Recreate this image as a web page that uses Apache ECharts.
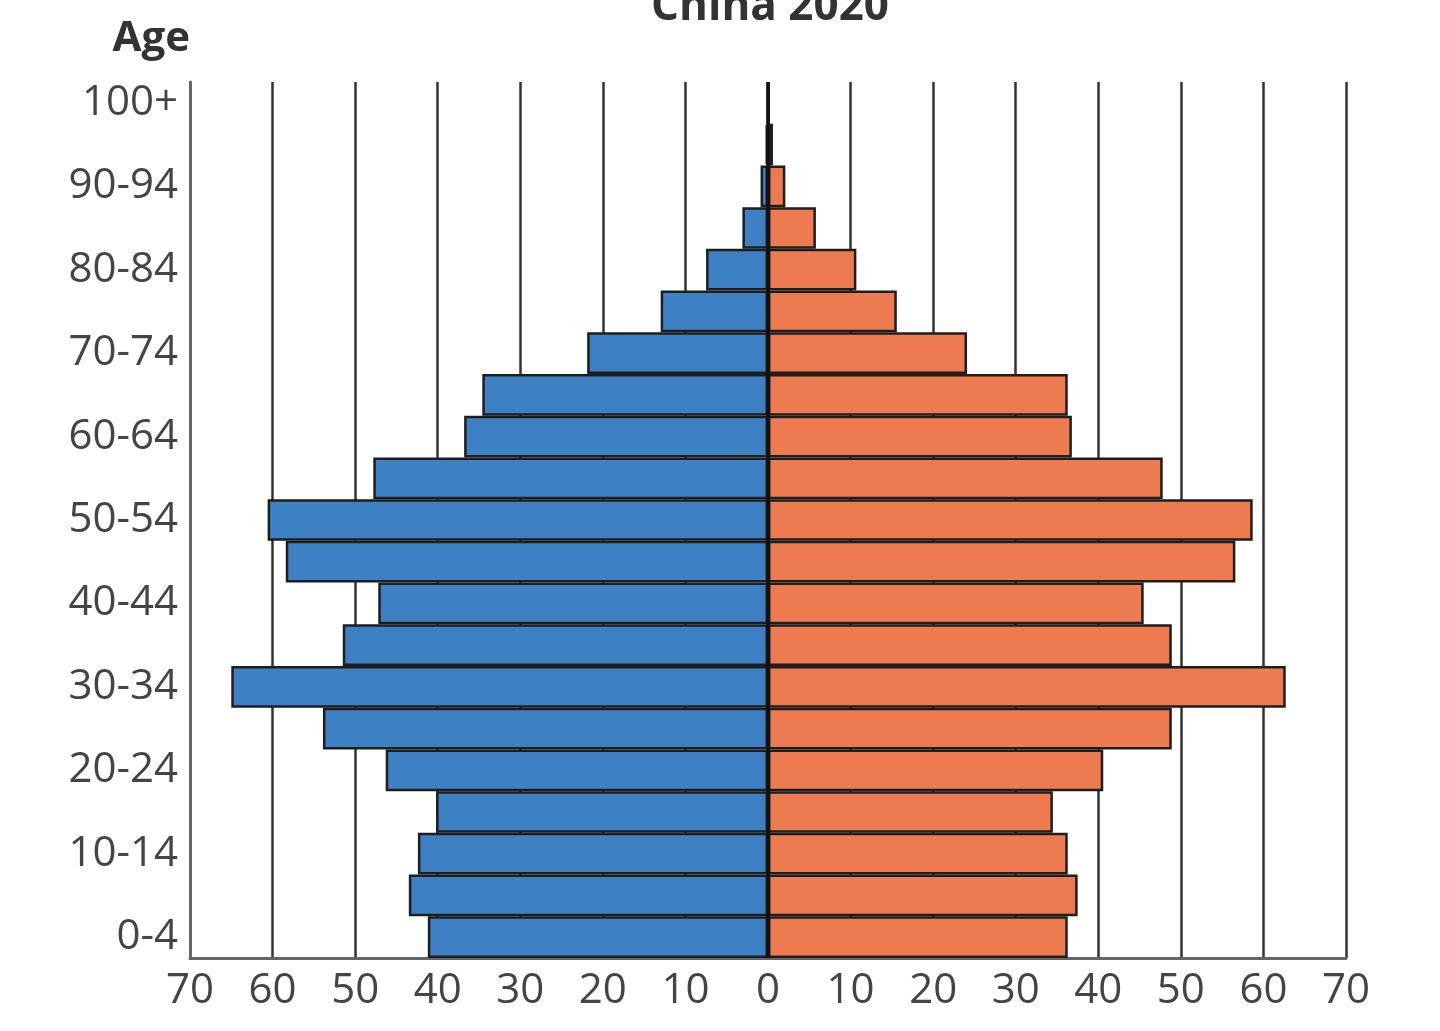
<!DOCTYPE html>
<html>
<head>
<meta charset="utf-8">
<script src="https://cdn.jsdelivr.net/npm/echarts@6/dist/echarts.min.js"></script>
<style>
html, body { margin: 0; padding: 0; background: #fff; }
#main { width: 1440px; height: 1031px; }
</style>
</head>
<body>
<div id="main"></div>
<script>
// 年龄组（从下到上）
var ages = ['0-4', '5-9', '10-14', '15-19', '20-24', '25-29', '30-34', '35-39', '40-44', '45-49',
    '50-54', '55-59', '60-64', '65-69', '70-74', '75-79', '80-84', '85-89', '90-94', '95-99', '100+'];
// 男性（百万），左侧
var male = [41.2, 43.5, 42.4, 40.2, 46.3, 53.9, 65.0, 51.5, 47.2, 58.4,
    60.6, 47.8, 36.8, 34.6, 21.9, 13.0, 7.5, 3.1, 0.9, 0.3, 0.05];
// 女性（百万），右侧
var female = [36.3, 37.5, 36.3, 34.5, 40.6, 48.9, 62.7, 48.9, 45.5, 56.6,
    58.7, 47.8, 36.8, 36.3, 24.1, 15.6, 10.7, 5.8, 2.1, 0.6, 0.15];
var xTicks = [-70, -60, -50, -40, -30, -20, -10, 0, 10, 20, 30, 40, 50, 60, 70];

var chart = echarts.init(document.getElementById('main'));

var option = {
    animation: false,
    title: {
        text: 'China 2020',
        left: 765,
        textAlign: 'center',
        top: -20,
        textStyle: { fontFamily: 'Open Sans', fontSize: 44, fontWeight: 'bold', color: '#333' }
    },
    grid: { left: 190, right: 94, top: 82, bottom: 73, containLabel: false },
    xAxis: {
        type: 'value',
        min: xTicks[0],
        max: xTicks[xTicks.length - 1],
        interval: 10,
        axisLine: { show: true, lineStyle: { color: '#666', width: 3 } },
        axisTick: { show: false },
        axisLabel: {
            formatter: function (v) { return Math.abs(v); },
            fontFamily: 'Open Sans', fontSize: 42, color: '#444', margin: 12
        },
        splitLine: { show: true, lineStyle: { color: '#333', width: 2.5 } }
    },
    yAxis: {
        type: 'category',
        data: ages,
        name: 'Age',
        nameLocation: 'end',
        nameGap: 22,
        nameTextStyle: { fontFamily: 'Open Sans', fontSize: 42, fontWeight: 'bold', color: '#333', align: 'right' },
        axisLine: { show: true, onZero: false, lineStyle: { color: '#666', width: 3 } },
        axisTick: { show: false },
        axisLabel: { interval: 1, fontFamily: 'Open Sans', fontSize: 42, color: '#444', margin: 12 }
    },
    series: [
        {
            name: 'Male',
            type: 'bar',
            data: male.map(function (v) { return -v; }),
            barGap: '-100%',
            barCategoryGap: 0,
            itemStyle: { color: '#3d80c3', borderColor: '#1e1e1e', borderWidth: 2.5 }
        },
        {
            name: 'Female',
            type: 'bar',
            data: female,
            barGap: '-100%',
            barCategoryGap: 0,
            itemStyle: { color: '#ee7b50', borderColor: '#1e1e1e', borderWidth: 2.5 },
            markLine: {
                silent: true,
                symbol: 'none',
                label: { show: false },
                lineStyle: { color: '#111', width: 3.5, type: 'solid' },
                data: [{ xAxis: 0 }]
            }
        }
    ]
};
chart.setOption(option);
</script>
</body>
</html>
